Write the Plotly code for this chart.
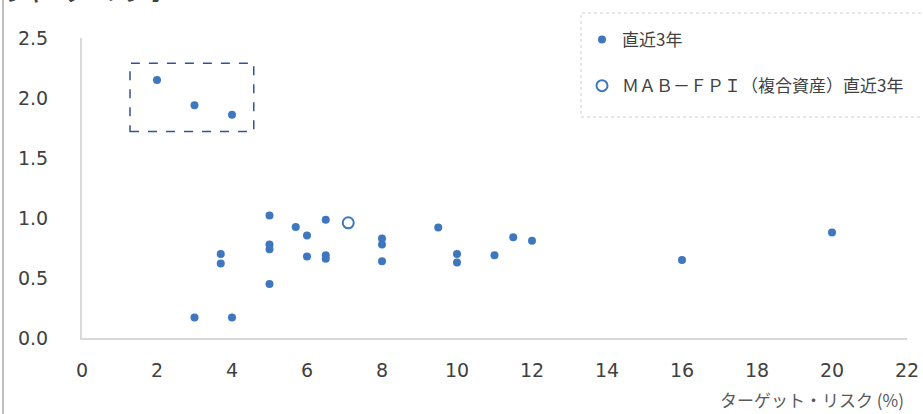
import plotly.graph_objects as go

# Data
risk_recent = [2, 3, 4, 5, 5, 5, 5, 5.7, 6, 6, 6.5, 6.5, 6.5, 3.7, 3.7, 3, 4,
               8, 8, 8, 9.5, 10, 10, 11, 11.5, 12, 16, 20]
sharpe_recent = [2.15, 1.94, 1.86, 1.02, 0.78, 0.74, 0.45, 0.925, 0.855, 0.68, 0.985, 0.69, 0.66,
                 0.70, 0.62, 0.17, 0.17, 0.83, 0.78, 0.64, 0.92, 0.70, 0.63, 0.69, 0.84, 0.81, 0.65, 0.88]
risk_fpi = [7.1]
sharpe_fpi = [0.96]
name_recent = "直近3年"
name_fpi = "ＭＡＢ－ＦＰＩ（複合資産）直近3年"
x_ticks = [0, 2, 4, 6, 8, 10, 12, 14, 16, 18, 20, 22]
y_ticks = [0.0, 0.5, 1.0, 1.5, 2.0, 2.5]
x_title = "ターゲット・リスク (%)"
y_title = "シャープ・レシオ"

blue = "#3F77BF"
tick_font = dict(family="DejaVu Sans", size=19, color="#404040")
jp = "Noto Sans CJK JP"

fig = go.Figure()
fig.add_trace(go.Scatter(x=risk_recent, y=sharpe_recent, mode="markers", name=name_recent,
                         legendgroup="a",
                         marker=dict(color=blue, size=8, line=dict(width=0))))
fig.add_trace(go.Scatter(x=risk_fpi, y=sharpe_fpi, mode="markers", name=name_fpi,
                         legendgroup="b",
                         marker=dict(color="white", size=11, line=dict(color=blue, width=2))))

L, R, T, B = 82, 16, 38, 76
W, H = 923, 414
pw, ph = W - L - R, H - T - B

def px(xp):
    return (xp - L) / pw

def py(yp):
    return (H - B - yp) / ph

fig.update_layout(
    width=W, height=H,
    margin=dict(l=L, r=R, t=T, b=B, autoexpand=False),
    paper_bgcolor="white", plot_bgcolor="white",
    showlegend=True,
    legend=dict(x=px(582), y=py(22), xanchor="left", yanchor="top",
                font=dict(family=jp, size=17, color="#404040"),
                bgcolor="rgba(0,0,0,0)", borderwidth=0, tracegroupgap=21,
                itemsizing="trace"),
    xaxis=dict(range=[0, 22], tickvals=x_ticks, showgrid=False, zeroline=False,
               showline=True, linecolor="#D9D9D9", linewidth=2, automargin=False,
               tickfont=tick_font, ticks="", ticklabelstandoff=14),
    yaxis=dict(range=[0, 2.5], tickvals=y_ticks, tickformat=".1f", showgrid=False, zeroline=False,
               showline=True, linecolor="#D9D9D9", linewidth=2, automargin=False,
               tickfont=tick_font, ticks="", ticklabelstandoff=28),
    shapes=[
        dict(type="rect", xref="x", yref="y", x0=1.28, x1=4.58, y0=1.72, y1=2.29,
             line=dict(color="#2F5597", width=1.5, dash="dash"), fillcolor="rgba(0,0,0,0)"),
        dict(type="rect", xref="paper", yref="paper", x0=px(581), x1=px(960), y0=py(117), y1=py(13),
             line=dict(color="#D0D0D0", width=1, dash="dot"), fillcolor="rgba(0,0,0,0)", layer="below"),
        dict(type="line", xref="paper", yref="paper", x0=px(3), x1=px(3), y0=py(420), y1=py(-5),
             line=dict(color="#BFBFBF", width=2)),
    ],
    annotations=[
        dict(text=x_title, xref="paper", yref="paper", x=px(906), y=py(400), xanchor="right",
             yanchor="middle", showarrow=False, font=dict(family=jp, size=17, color="#595959")),
        dict(text="<b>" + y_title + "</b>", xref="paper", yref="paper", x=px(4), y=py(-8),
             xanchor="left", yanchor="middle", showarrow=False,
             font=dict(family=jp, size=20, color="#404040")),
    ],
)

fig.write_html("out.html", config={"displayModeBar": False},
               post_script="document.body.style.margin='0';document.body.style.overflow='hidden';")
